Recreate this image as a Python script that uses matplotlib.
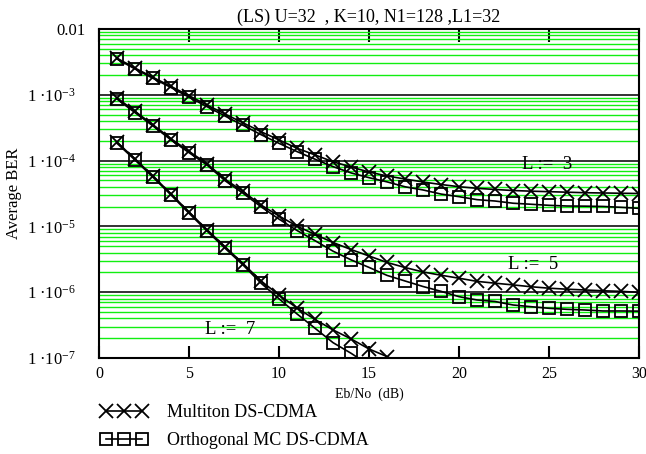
import numpy as np
import matplotlib
matplotlib.use('Agg')
import matplotlib.pyplot as plt
from matplotlib.ticker import FixedLocator, FixedFormatter, LogLocator, NullFormatter

plt.rcParams['font.family'] = ['Liberation Serif', 'DejaVu Serif']
plt.rcParams['mathtext.fontset'] = 'custom'
plt.rcParams['mathtext.rm'] = 'Liberation Serif'
plt.rcParams['mathtext.it'] = 'Liberation Serif:italic'

# Eb/No (dB)
ebno = [1, 2, 3, 4, 5, 6, 7, 8, 9, 10, 11, 12, 13, 14, 15,
        16, 17, 18, 19, 20, 21, 22, 23, 24, 25, 26, 27, 28, 29, 30]

# L = 3
mt_L3 = [3.6e-3, 2.55e-3, 1.84e-3, 1.34e-3, 9.7e-4, 7.0e-4, 5.1e-4, 3.75e-4, 2.75e-4, 2.06e-4,
         1.54e-4, 1.22e-4, 9.6e-5, 8.0e-5, 6.7e-5, 5.84e-5, 5.25e-5, 4.73e-5, 4.33e-5, 4.01e-5,
         3.79e-5, 3.64e-5, 3.51e-5, 3.43e-5, 3.37e-5, 3.31e-5, 3.25e-5, 3.22e-5, 3.19e-5, 3.16e-5]
oc_L3 = [3.5e-3, 2.47e-3, 1.78e-3, 1.29e-3, 9.2e-4, 6.6e-4, 4.76e-4, 3.44e-4, 2.48e-4, 1.83e-4,
         1.37e-4, 1.05e-4, 8.1e-5, 6.5e-5, 5.5e-5, 4.75e-5, 4.0e-5, 3.58e-5, 3.1e-5, 2.83e-5,
         2.55e-5, 2.43e-5, 2.25e-5, 2.17e-5, 2.09e-5, 2.04e-5, 2.03e-5, 2.01e-5, 1.95e-5, 1.88e-5]

# L = 5
mt_L5 = [9.0e-4, 5.6e-4, 3.5e-4, 2.15e-4, 1.38e-4, 9.0e-5, 5.2e-5, 3.4e-5, 2.11e-5, 1.44e-5,
         1.01e-5, 7.53e-6, 5.69e-6, 4.45e-6, 3.55e-6, 2.83e-6, 2.37e-6, 2.03e-6, 1.81e-6, 1.63e-6,
         1.46e-6, 1.37e-6, 1.29e-6, 1.21e-6, 1.15e-6, 1.11e-6, 1.08e-6, 1.05e-6, 1.03e-6, 9.95e-7]
oc_L5 = [8.63e-4, 5.35e-4, 3.36e-4, 2.06e-4, 1.32e-4, 8.57e-5, 4.95e-5, 3.19e-5, 1.99e-5, 1.29e-5,
         8.66e-6, 6.07e-6, 4.2e-6, 3.1e-6, 2.38e-6, 1.8e-6, 1.48e-6, 1.22e-6, 1.03e-6, 8.55e-7,
         7.61e-7, 7.22e-7, 6.39e-7, 6.02e-7, 5.69e-7, 5.49e-7, 5.36e-7, 5.18e-7, 5.18e-7, 5.15e-7]

# L = 7 (rest lies below 1e-7)
mt_L7 = [1.9e-4, 1.06e-4, 5.8e-5, 3.12e-5, 1.65e-5, 8.9e-6, 4.9e-6, 2.72e-6, 1.48e-6, 9.06e-7,
         5.75e-7, 3.85e-7, 2.67e-7, 1.95e-7, 1.37e-7, 1.05e-7, 7.8e-8]
oc_L7 = [1.83e-4, 1.02e-4, 5.57e-5, 3.0e-5, 1.58e-5, 8.5e-6, 4.65e-6, 2.59e-6, 1.37e-6, 7.94e-7,
         4.67e-7, 2.83e-7, 1.71e-7, 1.18e-7, 7.8e-8]

y_ticks = [1e-7, 1e-6, 1e-5, 1e-4, 1e-3, 1e-2]
y_ticklabels = [r'$\mathregular{1\ ·10^{-7}}$   ', r'$\mathregular{1\ ·10^{-6}}$   ',
                r'$\mathregular{1\ ·10^{-5}}$   ', r'$\mathregular{1\ ·10^{-4}}$   ',
                r'$\mathregular{1\ ·10^{-3}}$   ', '0.01']
curve_labels = ['L :=  3', 'L :=  5', 'L :=  7']
curve_label_pos = [(24.9, 8.6e-5), (24.1, 2.6e-6), (7.3, 2.67e-7)]

fig = plt.figure(figsize=(6.46, 4.54), dpi=100)
ax = fig.add_axes([0.1533, 0.2115, 0.8359, 0.7246])
ax.set_yscale('log')
ax.set_xlim(0, 30)
ax.set_ylim(1e-7, 1e-2)

# 网格: 次刻度绿线, 整数量级黑线
ax.yaxis.set_minor_locator(LogLocator(base=10, subs=np.arange(2, 10)))
ax.yaxis.set_minor_formatter(NullFormatter())
ax.grid(True, which='minor', axis='y', color='#11ee11', linewidth=1.0, zorder=0)
ax.grid(True, which='major', axis='y', color='#333333', linewidth=1.4, zorder=0)
ax.set_axisbelow(True)

mt_style = dict(color='black', linewidth=1.2, marker='x', markersize=10,
                markeredgewidth=1.3, label='Multiton DS-CDMA')
oc_style = dict(color='black', linewidth=1.2, marker='s', markersize=8,
                markerfacecolor='none', markeredgewidth=1.3, label='Orthogonal MC DS-CDMA')

h1, = ax.plot(ebno, mt_L3, **mt_style)
h2, = ax.plot(ebno, oc_L3, **oc_style)
ax.plot(ebno, mt_L5, **mt_style)
ax.plot(ebno, oc_L5, **oc_style)
ax.plot(ebno[:len(mt_L7)], mt_L7, **mt_style)
ax.plot(ebno[:len(oc_L7)], oc_L7, **oc_style)

for txt, (xx, yy) in zip(curve_labels, curve_label_pos):
    ax.text(xx, yy, txt, fontsize=13.5, ha='center', va='center')

ax.xaxis.set_major_locator(FixedLocator([0, 5, 10, 15, 20, 25, 30]))
ax.tick_params(axis='x', which='major', direction='in', length=9, width=1.5,
               top=True, bottom=True, labelsize=11.5, pad=6)
ax.yaxis.set_major_locator(FixedLocator(y_ticks))
ax.yaxis.set_major_formatter(FixedFormatter(y_ticklabels))
ax.tick_params(axis='y', which='both', length=0, labelsize=12, pad=10)

for s in ax.spines.values():
    s.set_linewidth(1.5)

ax.set_title('(LS) U=32  , K=10, N1=128 ,L1=32', fontsize=13, pad=5)
ax.set_xlabel('Eb/No  (dB)', fontsize=10, labelpad=4)
ax.set_ylabel('Average BER', fontsize=12, labelpad=4)

leg = fig.legend([h1, h2], ['Multiton DS-CDMA', 'Orthogonal MC DS-CDMA'],
                 loc='lower left', bbox_to_anchor=(0.13, -0.025), frameon=False,
                 fontsize=13, numpoints=3, handlelength=2.6, handletextpad=1.1,
                 labelspacing=0.6, markerscale=1.0)

fig.savefig('out.png', dpi=100)
